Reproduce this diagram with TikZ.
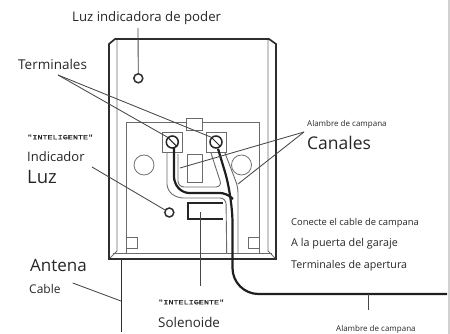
\documentclass[tikz,border=0pt]{standalone}
\usepackage{fontspec}
\setmainfont{Open Sans}
\newfontfamily\capfont[FakeBold=0.6]{Liberation Mono}
\newcommand{\fs}[1]{\fontsize{#1}{#1}\selectfont}
\tikzset{
  px/.style={x=1pt,y=-1pt},
  lbl/.style={inner sep=0pt,anchor=west,text=black!85},
  smallcaps/.style={lbl,xscale=1.3,font=\capfont\fontsize{6.5}{6.5}\selectfont},
  lead/.style={draw=black!72,line width=0.85pt},
  body/.style={draw=black!82,line width=1.7pt},
  thin/.style={draw=black!58,line width=0.9pt},
  wire/.style={draw=black!88,line width=2.2pt,rounded corners=6pt},
  wireout/.style={draw=black!58,line width=0.9pt,rounded corners=6pt},
  ring/.style={circle,draw=black!82,line width=1.5pt,inner sep=0pt,minimum size=9pt},
  hole/.style={circle,draw=black!55,line width=0.8pt,inner sep=0pt,minimum size=20pt},
  screw/.style={circle,draw=black!85,line width=1.5pt,inner sep=0pt,minimum size=12pt},
  sq/.style={draw=black!58,line width=0.9pt,inner sep=0pt,minimum size=11pt},
}
\begin{document}
\begin{tikzpicture}[px]
\useasboundingbox (0,0) rectangle (450,334);
\fill[black!18] (447.5,0) rectangle (450,334);
% housing
\draw[thin] (117,40) -- (117,251) -- (110,258);
\draw[thin] (268,40) -- (268,251) -- (275,258);
\draw[thin] (113,253) -- (272,253);
\draw[thin] (126,253) -- (126,122) -- (259,122) -- (259,253);
\draw[body] (109,259) -- (109,44) -- (115,39) -- (269,39) -- (276,44) -- (276,259) -- cycle;
% tab, corners, holes, centre
\node[sq,minimum width=16pt,minimum height=12pt,fill=white] (tab) at (194.5,124) {};
\node[sq] (cl) at (131.5,243) {};
\node[sq] (cr) at (253.5,243) {};
\node[hole] (hl) at (144,165) {};
\node[hole] (hr) at (241.5,165) {};
\node[sq,minimum width=15pt,minimum height=28pt] (cen) at (194.5,168) {};
% screw blocks
\node[sq,minimum size=20pt] (sqa) at (172.3,142) {};
\node[sq,minimum size=20pt] (sqb) at (216,142) {};
\node[screw] (sa) at (172.3,142) {};
\node[screw] (sb) at (216,142) {};
\draw[black!85,line width=1pt] (sa.north west) -- (sa.south east);
\draw[black!85,line width=1pt] (sb.north west) -- (sb.south east);
% rings
\node[ring] (pw) at (138.3,78.3) {};
\node[ring] (ind) at (169.3,212.5) {};
% wire outlines
\draw[wireout] (167,153) -- (167,190) -- (177,198) -- (226,198) -- (226.7,253);
\draw[wireout] (178,154) -- (178,187) -- (222,187) -- (211,153);
\draw[wireout] (225,153) -- (238,187) -- (238,253);
% solenoid
\draw[black!85,line width=2.3pt] (223,203) -- (188,203) -- (188,219) -- (223,219);
% wires
\draw[wire] (174,148) -- (174,183) -- (183,193) -- (226,193) -- (233,199);
\draw[wire,rounded corners=26pt] (sb.south) ++(2,0) -- (232.5,197) -- (232.5,294) -- (447,294);
% antenna
\draw[black!82,line width=1.7pt] (121.5,259) -- (121.5,332);
% labels
\node[lbl] (tpow) at (72,18) {\fs{13.2}Luz indicadora de poder};
\node[lbl] (tterm) at (18,64) {\fs{13.5}Terminales};
\node[smallcaps] (tintl) at (27,137) {"INTELIGENTE"};
\node[lbl] (tind) at (27,157) {\fs{13}Indicador};
\node[lbl] (tluz) at (27,177) {\fs{18.5}Luz};
\node[lbl] (tab1) at (307,124) {\fs{8}Alambre de campana};
\node[lbl] (tcan) at (307,143) {\fs{17.5}Canales};
\node[lbl] (tcon) at (291,223) {\fs{9.4}Conecte el cable de campana};
\node[lbl] (tpue) at (291,244) {\fs{10.8}A la puerta del garaje};
\node[lbl] (tape) at (291,266) {\fs{10.7}Terminales de apertura};
\node[lbl] (tant) at (30,265) {\fs{17}Antena};
\node[lbl] (tcab) at (29,289) {\fs{12}Cable};
\node[smallcaps] (tints) at (158,302) {"INTELIGENTE"};
\node[lbl] (tsol) at (158,322) {\fs{13.4}Solenoide};
\node[lbl] (tab2) at (336,329) {\fs{8}Alambre de campana};
% leaders
\coordinate (cterm) at (58,75);
\coordinate (ccan) at (304,132);
\coordinate (cind) at (92,167);
\coordinate (csol) at (200.7,286);
\coordinate (ccab) at (72.7,283);
\coordinate (cpow) at (138,28);
\coordinate (cbell) at (368,310);
\draw[lead] (cpow) -- (pw);
\draw[lead] (cterm) -- (sa.north west);
\draw[lead] (cterm) -- (sb.north west);
\draw[lead] (ccan) -- (180,168);
\draw[lead] (ccan) -- (238,184);
\draw[lead] (cind) -- (ind);
\draw[lead] (200.7,212) -- (csol);
\draw[lead] (ccab) -- (121,301);
\draw[lead] (368,294) -- (cbell);
\end{tikzpicture}
\end{document}
